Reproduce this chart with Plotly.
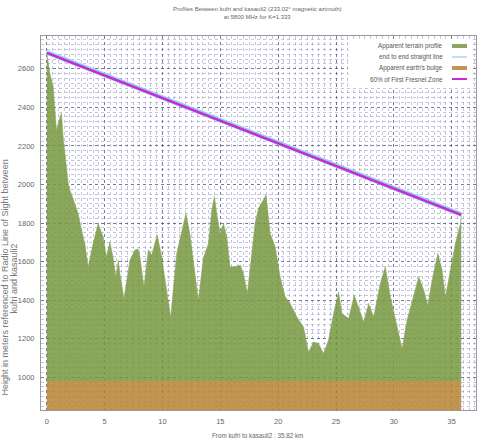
import plotly.graph_objects as go

# Terrain profile (km, m)
terrain_km = [0.0, 0.26, 0.55, 0.69, 0.84, 1.05, 1.27, 1.41, 1.7, 1.85, 2.0, 2.28, 2.71, 3.0, 3.29, 3.58,
              4.0, 4.44, 4.87, 5.16, 5.45, 5.74, 5.97, 6.18, 6.32, 6.67, 7.19, 7.62, 7.9, 8.05, 8.4,
              8.77, 9.06, 9.55, 9.93, 10.36, 10.71, 11.23, 11.66, 12.03, 12.38, 12.67, 13.1, 13.53,
              13.97, 14.26, 14.49, 14.69, 14.98, 15.27, 15.56, 15.84, 16.28, 16.71, 17.0, 17.34,
              17.58, 18.0, 18.3, 18.68, 18.96, 19.31, 19.74, 20.17, 20.61, 21.04, 21.62, 22.19,
              22.62, 23.06, 23.49, 23.92, 24.35, 24.79, 25.22, 25.51, 26.09, 26.58, 26.95, 27.39,
              27.82, 28.25, 28.83, 29.26, 29.7, 30.28, 30.71, 31.14, 31.71, 32.15, 32.58, 32.93,
              33.31, 33.8, 34.17, 34.46, 34.89, 35.32, 35.76, 35.82]
terrain_m = [2685, 2578, 2508, 2404, 2283, 2330, 2370, 2250, 2080, 2006, 1971, 1920, 1850, 1764, 1694, 1573,
             1694, 1798, 1729, 1625, 1703, 1617, 1521, 1608, 1539, 1409, 1608, 1660, 1665, 1625, 1469,
             1660, 1634, 1738, 1625, 1452, 1313, 1643, 1764, 1850, 1740, 1600, 1400, 1617,
             1694, 1867, 1937, 1850, 1746, 1798, 1729, 1573, 1573, 1582, 1539, 1435,
             1573, 1798, 1876, 1920, 1945, 1746, 1677, 1521, 1417, 1383, 1313, 1261,
             1131, 1183, 1175, 1123, 1192, 1331, 1443, 1331, 1305, 1426, 1365, 1287,
             1383, 1313, 1487, 1573, 1417, 1261, 1149, 1296, 1417, 1521, 1452, 1374,
             1504, 1643, 1556, 1417, 1556, 1694, 1798, 1845]

# End-to-end straight line and 60% Fresnel zone
los_km = [0.0, 35.82]
los_m = [2685, 1845]
fresnel_km = [0.0, 35.82]
fresnel_m = [2682, 1842]

# Apparent earth's bulge
bulge_km = [0.0, 35.82]
bulge_m = [980, 980]

x_ticks = [0, 5, 10, 15, 20, 25, 30, 35]
y_ticks = [1000, 1200, 1400, 1600, 1800, 2000, 2200, 2400, 2600]

legend_labels = ["Apparent terrain profile", "end to end straight line",
                 "Apparent earth's bulge", "60% of First Fresnel Zone"]

FONT = "Liberation Sans, Arial, sans-serif"
GREEN = "rgb(140,167,92)"
GREEN_FILL = "rgba(120,152,64,0.86)"
TAN = "rgb(194,149,80)"
TAN_FILL = "rgba(184,131,52,0.86)"
BLUE = "rgb(150,205,235)"
MAGENTA = "rgb(200,40,215)"
legend_kinds = [("box", GREEN), ("line", BLUE), ("box", TAN), ("line", MAGENTA)]

fig = go.Figure()
fig.add_trace(go.Scatter(x=bulge_km, y=bulge_m, mode="lines", fill="tozeroy",
                         fillcolor=TAN_FILL, line=dict(color=TAN, width=0),
                         name=legend_labels[2], showlegend=False))
fig.add_trace(go.Scatter(x=terrain_km, y=terrain_m, mode="lines", fill="tonexty",
                         fillcolor=GREEN_FILL, line=dict(color=GREEN, width=0.5),
                         name=legend_labels[0], showlegend=False))
fig.add_trace(go.Scatter(x=los_km, y=los_m, mode="lines",
                         line=dict(color=BLUE, width=4.5),
                         name=legend_labels[1], showlegend=False))
fig.add_trace(go.Scatter(x=fresnel_km, y=fresnel_m, mode="lines",
                         line=dict(color=MAGENTA, width=2.5),
                         name=legend_labels[3], showlegend=False))

# Plot-area geometry in pixels (for paper-coordinate placement of legend/titles)
W, H = 481, 440
L, R, T, B = 41, 5, 36, 30
pw, ph = W - L - R, H - T - B


def px(x):
    return (x - L) / pw


def py(y):
    return (H - B - y) / ph


shapes = [dict(type="rect", xref="paper", yref="paper", x0=px(348), x1=px(473),
               y0=py(87), y1=py(39), fillcolor="white", line=dict(width=0), layer="above")]
annotations = []
row_y = [46, 57, 68, 79]
for (kind, col), label, ry in zip(legend_kinds, legend_labels, row_y):
    annotations.append(dict(text=label, xref="paper", yref="paper", x=px(445), y=py(ry),
                            xanchor="right", yanchor="middle", showarrow=False,
                            font=dict(family=FONT, size=6.3, color="#555")))
    if kind == "box":
        shapes.append(dict(type="rect", xref="paper", yref="paper", x0=px(452), x1=px(467),
                           y0=py(ry + 2), y1=py(ry - 2), fillcolor=col, line=dict(width=0),
                           layer="above"))
    else:
        shapes.append(dict(type="line", xref="paper", yref="paper", x0=px(452), x1=px(467),
                           y0=py(ry), y1=py(ry), line=dict(color=col, width=2 if col == MAGENTA else 1.2),
                           layer="above"))

# Titles
annotations.append(dict(text="Profiles Between kufri and kasauli2 (233.02° magnetic azimuth)<br>at 5800 MHz for K=1.333",
                        xref="paper", yref="paper", x=px(257), y=py(4), xanchor="center", yanchor="top",
                        showarrow=False, font=dict(family=FONT, size=6, color="#666")))
annotations.append(dict(text="From kufri to kasauli2 : 35.82 km", xref="paper", yref="paper",
                        x=px(257), y=py(435), xanchor="center", yanchor="middle",
                        showarrow=False, font=dict(family=FONT, size=6.3, color="#666")))
y_title_lines = ["Height in meters referenced to Radio Line of Sight between", "kufri and kasauli2"]
for line_text, lx in zip(y_title_lines, [4.5, 13.5]):
    annotations.append(dict(text=line_text, xref="paper", yref="paper", x=px(lx), y=py(278),
                            xanchor="center", yanchor="middle", textangle=-90, showarrow=False,
                            font=dict(family=FONT, size=9, color="#777")))

fig.update_layout(
    width=W, height=H,
    margin=dict(l=L, r=R, t=T, b=B),
    paper_bgcolor="white", plot_bgcolor="white",
    font=dict(family=FONT, size=8, color="#666"),
    showlegend=False,
    shapes=shapes,
    annotations=annotations,
    xaxis=dict(range=[-0.5, 37.1], tickvals=x_ticks, ticks="", showline=True,
               linecolor="#999", mirror=True, zeroline=False, automargin=False,
               showgrid=True, gridcolor="rgba(80,80,110,0.65)", griddash="dot",
               minor=dict(dtick=0.5, showgrid=True, gridcolor="rgba(140,140,195,0.5)", griddash="dot"),
               ticklabelstandoff=4,
               tickfont=dict(family=FONT, size=7.5, color="#666")),
    yaxis=dict(range=[830, 2770], tickvals=y_ticks, ticks="", showline=True,
               linecolor="#999", mirror=True, zeroline=False, automargin=False,
               showgrid=True, gridcolor="rgba(80,80,110,0.65)", griddash="dot",
               minor=dict(dtick=25, showgrid=True, gridcolor="rgba(140,140,195,0.5)", griddash="dot"),
               ticklabelstandoff=4,
               tickfont=dict(family=FONT, size=7.5, color="#666")),
)

fig.write_html("out.html")
